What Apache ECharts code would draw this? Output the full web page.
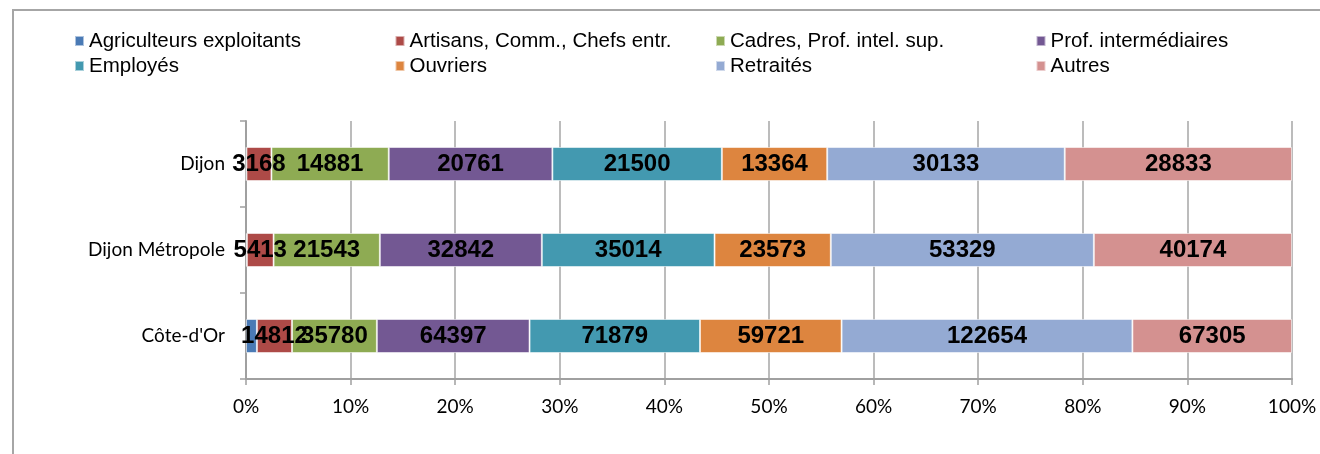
<!DOCTYPE html>
<html>
<head>
<meta charset="utf-8">
<script src="https://cdn.jsdelivr.net/npm/echarts@6/dist/echarts.min.js"></script>
<style>
html,body{margin:0;padding:0;background:#fff;}
#frame{position:absolute;left:12px;top:9px;width:1400px;height:500px;border-top:2px solid #a6a6a6;border-left:2px solid #a6a6a6;}
#chart{position:absolute;left:0;top:0;width:1320px;height:454px;}
</style>
</head>
<body>
<div id="frame"></div>
<div id="chart"></div>
<script>
// Categories (top to bottom as in the picture)
var categories = ["Dijon", "Dijon Métropole", "Côte-d'Or"];
var seriesNames = ["Agriculteurs exploitants", "Artisans, Comm., Chefs entr.", "Cadres, Prof. intel. sup.", "Prof. intermédiaires", "Employés", "Ouvriers", "Retraités", "Autres"];
// Values per category: Dijon, Dijon Métropole, Côte-d'Or
var agriculteurs = [60, 180, 4600];
var artisans = [3168, 5413, 14812];
var cadres = [14881, 21543, 35780];
var profInter = [20761, 32842, 64397];
var employes = [21500, 35014, 71879];
var ouvriers = [13364, 23573, 59721];
var retraites = [30133, 53329, 122654];
var autres = [28833, 40174, 67305];
var xTicks = [0, 10, 20, 30, 40, 50, 60, 70, 80, 90, 100];
var colors = ["#4a7ab5", "#ad4a47", "#8eab53", "#735893", "#4399b0", "#dd853f", "#94aad3", "#d49190"];

var all = [agriculteurs, artisans, cadres, profInter, employes, ouvriers, retraites, autres];
var totals = categories.map(function(c, i){ var s = 0; all.forEach(function(a){ s += a[i]; }); return s; });
var yCats = categories.slice().reverse();
function rev(a){ return a.slice().reverse(); }
var revTotals = rev(totals);
var ARIAL = "'Liberation Sans', Arial, sans-serif";

var series = all.map(function(arr, k){
  var r = rev(arr);
  return {
    name: seriesNames[k],
    type: 'bar',
    stack: 'total',
    barWidth: 34,
    itemStyle: {color: colors[k], borderColor: 'rgba(255,255,255,0.55)', borderWidth: 1},
    label: {
      show: k !== 0,
      position: 'inside',
      color: '#000',
      fontFamily: ARIAL,
      fontWeight: 'bold',
      fontSize: 24,
      formatter: function(p){ return r[p.dataIndex]; }
    },
    data: r.map(function(v, i){ return v / revTotals[i] * 100; })
  };
});

var legends = [];
for (var c = 0; c < 4; c++) {
  legends.push({
    orient: 'vertical',
    left: 69 + c * 320.5,
    top: 25,
    itemWidth: 9,
    itemHeight: 10,
    itemGap: 3,
    icon: 'rect',
    data: [seriesNames[c], seriesNames[c + 4]],
    textStyle: {fontFamily: ARIAL, fontSize: 20.5, color: '#000', padding: [0,0,0,0], lineHeight: 22}
  });
}

var chart = echarts.init(document.getElementById('chart'), null, {renderer: 'canvas'});
chart.setOption({
  animation: false,
  color: colors,
  legend: legends,
  grid: {left: 246, right: 28, top: 121, bottom: 75, containLabel: false},
  xAxis: {
    type: 'value', min: 0, max: 100, interval: 10,
    axisLine: {show: true, lineStyle: {color: '#a0a0a0', width: 2}},
    axisTick: {show: true, length: 6, lineStyle: {color: '#a0a0a0', width: 1.5}},
    splitLine: {show: true, lineStyle: {color: '#a6a6a6', width: 1.5}},
    axisLabel: {formatter: '{value}%', color: '#000', fontFamily: 'Lato, Liberation Sans', fontSize: 19, margin: 18}
  },
  yAxis: {
    type: 'category', data: yCats,
    axisLine: {show: true, lineStyle: {color: '#a0a0a0', width: 2}},
    axisTick: {show: true, length: 6, lineStyle: {color: '#a0a0a0', width: 1.5}},
    axisLabel: {color: '#000', fontFamily: 'Lato, Liberation Sans', fontSize: 19, margin: 21}
  },
  series: series
});
</script>
</body>
</html>
